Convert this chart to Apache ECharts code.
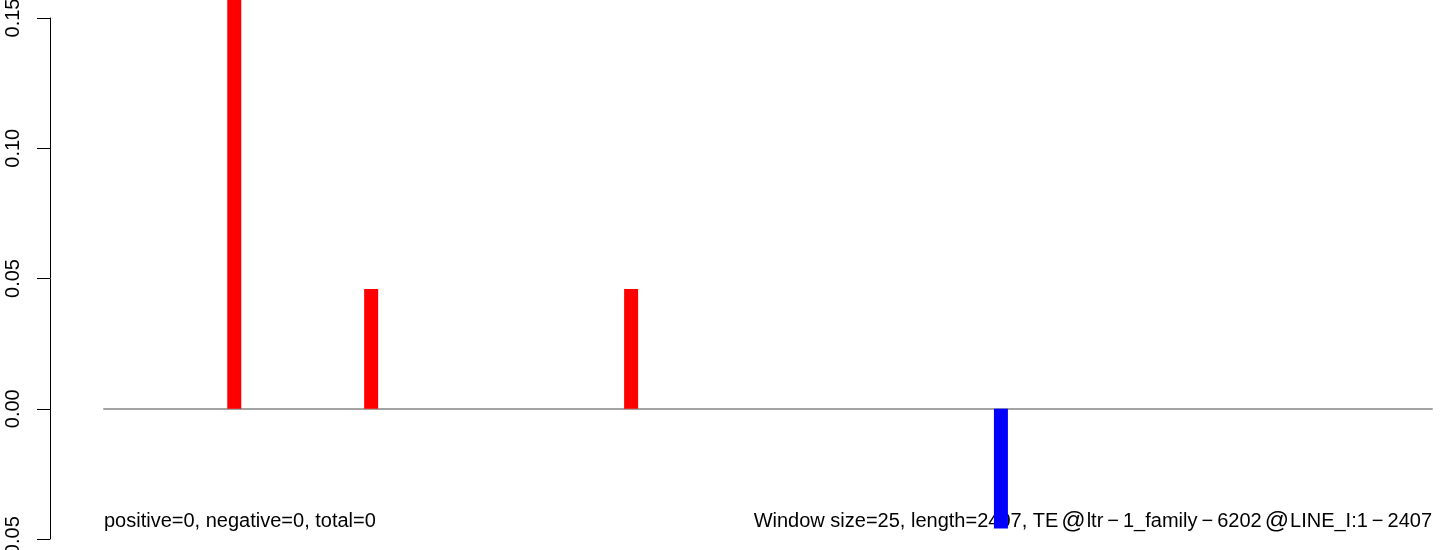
<!DOCTYPE html>
<html>
<head>
<meta charset="utf-8">
<script src="https://cdn.jsdelivr.net/npm/echarts@6/dist/echarts.min.js"></script>
<style>html,body{margin:0;padding:0;background:#fff;}#c{width:1444px;height:550px;}</style>
</head>
<body>
<div id="c"></div>
<script>
// Data
const windowPositions = [237, 485, 956, 1626];
const windowValues = [0.17, 0.046, 0.046, -0.046];
const yTicks = [-0.05, 0.00, 0.05, 0.10, 0.15];
const seqStart = 1;
const seqLength = 2407;
const leftText = 'positive=0, negative=0, total=0';
const rightText = 'Window size=25, length=2407, TE@ltr\u22121_family\u22126202@LINE_I:1\u22122407';

const chart = echarts.init(document.getElementById('c'), null, {renderer: 'canvas'});
const font = '"Liberation Sans", Arial, sans-serif';
// wrap '@' and minus glyphs in rich-text tokens to mimic R's wider symbol glyphs
const richRight = rightText.replace(/@/g, '{at|@}').replace(/\u2212/g, '{mn|\u2212}');
chart.setOption({
  animation: false,
  backgroundColor: '#ffffff',
  grid: {left: 104, right: 12, top: 18, bottom: 11, containLabel: false, outerBoundsMode: 'none'},
  xAxis: {
    type: 'value', min: seqStart, max: seqLength,
    axisLine: {show: true, onZero: true, lineStyle: {color: '#a3a3a3', width: 2}},
    axisTick: {show: false}, axisLabel: {show: false}, splitLine: {show: false}
  },
  yAxis: {
    type: 'value', min: yTicks[0], max: yTicks[yTicks.length - 1], interval: 0.05,
    offset: 54,
    axisLine: {show: true, lineStyle: {color: '#000', width: 1}},
    axisTick: {show: true, length: 13, lineStyle: {color: '#000', width: 1}},
    axisLabel: {show: true, rotate: 90, margin: 27, fontFamily: font, fontSize: 20, color: '#000',
      formatter: v => v.toFixed(2)},
    splitLine: {show: false}
  },
  graphic: [
    {type: 'text', left: 104, top: 511, z: 0,
      style: {text: leftText, font: '20px ' + font, fill: '#000'}},
    {type: 'text', right: 12, top: 509, z: 0,
      style: {text: richRight, font: '20px ' + font, fill: '#000',
        rich: {
          at: {font: '24px ' + font, fill: '#000', padding: [0, 1, 0, 3]},
          mn: {font: '20px ' + font, fill: '#000', padding: [0, 4, 0, 4]}
        }}}
  ],
  series: [{
    type: 'bar', clip: false, barWidth: 14, z: 5,
    data: windowPositions.map((p, i) => ({
      value: [p, windowValues[i]],
      itemStyle: {color: windowValues[i] >= 0 ? '#ff0000' : '#0000ff'}
    }))
  }]
});
</script>
</body>
</html>
